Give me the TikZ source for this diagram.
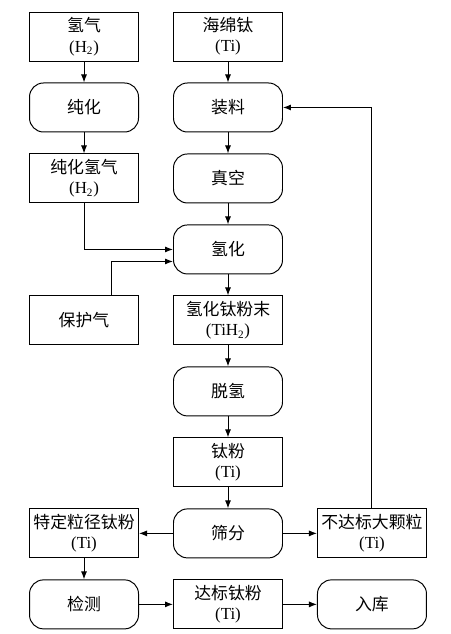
\documentclass[tikz,border=0pt]{standalone}
\usepackage{fontspec}
\setmainfont{Liberation Serif}
\newfontfamily\cjk{Noto Sans CJK SC}
\usepackage{tikz}
\usetikzlibrary{arrows.meta,positioning}

\begin{document}
\begin{tikzpicture}[
  node distance=0.525cm and 0.85cm,
  matbox/.style={draw, line width=0.7pt, minimum width=2.725cm, minimum height=1.225cm, align=center, inner sep=1pt, font=\cjk\fontsize{12}{14.5}\selectfont},
  opbox/.style={matbox, rounded corners=0.35cm},
  arr/.style={-{Latex[length=2mm,width=1.5mm]}, line width=0.7pt}
]
\useasboundingbox (0,0) rectangle (11.25,-15.85);
\node[matbox] (ti) at (5.7,-0.9125) {海绵钛\\{\rmfamily(Ti)}};
\node[matbox, left=of ti] (h2) {氢气\\{\rmfamily(H\textsubscript{2})}};
\node[opbox, below=of h2] (cl) {纯化};
\node[opbox, below=of ti] (zl) {装料};
\node[matbox, below=of cl] (chq) {纯化氢气\\{\rmfamily(H\textsubscript{2})}};
\node[opbox, below=of zl] (zk) {真空};
\node[opbox, below=of zk] (qh) {氢化};
\node[matbox, below=of qh] (thf) {氢化钛粉末\\{\rmfamily(TiH\textsubscript{2})}};
\node[matbox, left=of thf] (bhq) {保护气};
\node[opbox, below=of thf] (tq) {脱氢};
\node[matbox, below=of tq] (tf) {钛粉\\{\rmfamily(Ti)}};
\node[opbox, below=of tf] (sf) {筛分};
\node[matbox, left=of sf] (tdf) {特定粒径钛粉\\{\rmfamily(Ti)}};
\node[matbox, right=of sf] (bdb) {不达标大颗粒\\{\rmfamily(Ti)}};
\node[opbox, below=of tdf] (jc) {检测};
\node[matbox, below=of sf] (dbf) {达标钛粉\\{\rmfamily(Ti)}};
\node[opbox, below=of bdb] (rk) {入库};
% main flow
\draw[arr] (h2) -- (cl);
\draw[arr] (cl) -- (chq);
\draw[arr] (ti) -- (zl);
\draw[arr] (zl) -- (zk);
\draw[arr] (zk) -- (qh);
\draw[arr] (chq) |- (qh);
\draw[arr] ([xshift=0.675cm]bhq.north) |- ([yshift=-0.3cm]qh.west);
\draw[arr] (qh) -- (thf);
\draw[arr] (thf) -- (tq);
\draw[arr] (tq) -- (tf);
\draw[arr] (tf) -- (sf);
\draw[arr] (sf) -- (tdf);
\draw[arr] (sf) -- (bdb);
\draw[arr] (tdf) -- (jc);
\draw[arr] (jc) -- (dbf);
\draw[arr] (dbf) -- (rk);
% return of oversize particles
\draw[arr] (bdb) |- (zl);
\end{tikzpicture}
\end{document}
